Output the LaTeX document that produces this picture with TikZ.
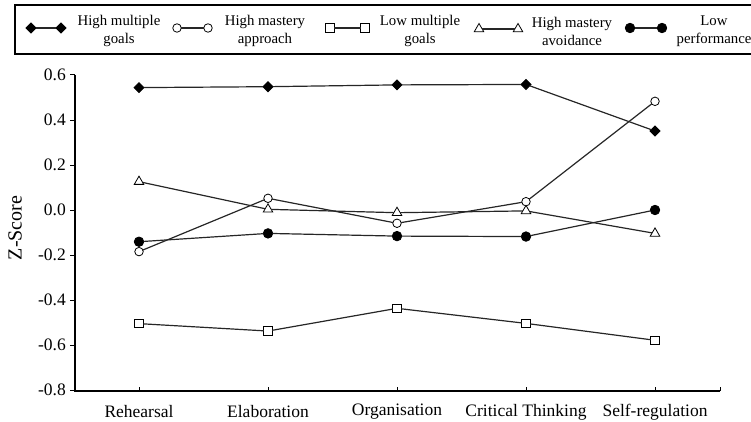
\documentclass[tikz,border=0pt]{standalone}
\usepackage{fontspec}
\setmainfont{Liberation Serif}
\usetikzlibrary{shapes.geometric}
\begin{document}
\begin{tikzpicture}[x=1pt,y=-1pt,
 mk/.style={inner sep=0pt, outer sep=0pt, draw=black, line width=0.8pt},
 diam/.style={mk, diamond, fill=black, minimum width=10pt, minimum height=10pt},
 ocirc/.style={mk, circle, fill=white, minimum size=8.5pt},
 sq/.style={mk, rectangle, fill=white, minimum size=8.5pt},
 tri/.style={mk, regular polygon, regular polygon sides=3, fill=white, minimum size=11pt},
 fcirc/.style={mk, circle, fill=black, minimum size=9.5pt},
 dline/.style={line width=1.2pt, black!85},
 axisline/.style={line width=1.8pt},
 ticklab/.style={font=\fontsize{17.5}{20}\selectfont, inner sep=0pt},
 zlab/.style={font=\fontsize{20}{24}\selectfont, inner sep=0pt},
 leglab/.style={font=\fontsize{14.8}{18}\selectfont, align=center, inner sep=0pt},
]
\useasboundingbox (0,0) rectangle (751,422);
% legend frame
\draw[line width=1.2pt] (770,5) -- (15,5) -- (15,54) -- (770,54);
% legend entries
\node[diam] (la1) at (31,28) {};
\node[diam] (la2) at (61,28) {};
\draw[dline] (la1) -- (la2);
\node[leglab] (lta) at (119,31) {High multiple\\goals};
\node[ocirc] (lb1) at (177,28) {};
\node[ocirc] (lb2) at (208,28) {};
\draw[dline] (lb1) -- (lb2);
\node[leglab] (ltb) at (265,31) {High mastery\\approach};
\node[sq] (lc1) at (330,28) {};
\node[sq] (lc2) at (365,28) {};
\draw[dline] (lc1) -- (lc2);
\node[leglab] (ltc) at (420,31) {Low multiple\\goals};
\node[tri] (ld1) at (479,29) {};
\node[tri] (ld2) at (518,29) {};
\draw[dline] (ld1) -- (ld2);
\node[leglab] (ltd) at (572,31) {High mastery\\avoidance};
\node[fcirc] (le1) at (630,28) {};
\node[fcirc] (le2) at (662,28) {};
\draw[dline] (le1) -- (le2);
\node[leglab] (lte) at (714,31) {Low\\performance};
% axes
\coordinate (o) at (75,391);
\coordinate (ytop) at (75,75);
\coordinate (xend) at (720,391);
\draw[axisline] (ytop) -- (o) -- (xend);
\foreach \v/\t in {0.6/0.6,0.4/0.4,0.2/0.2,0/0.0,-0.2/-0.2,-0.4/-0.4,-0.6/-0.6,-0.8/-0.8}{
  \draw[line width=1pt] (70,{210-225*\v}) -- (75,{210-225*\v});
  \node[ticklab, anchor=east] at (66,{210-225*\v}) {\t};
}
\node[zlab, rotate=90] (zl) at (15,228) {Z-Score};
\foreach \c/\n [count=\i] in {Rehearsal/r,Elaboration/e,Organisation/o,Critical Thinking/c,Self-regulation/s}{
  \draw[line width=1pt] ({139+129*(\i-1)},391) -- ({139+129*(\i-1)},387);
  \node[ticklab] (x\n) at ({139+129*(\i-1)},412) {\c};
}
\draw[line width=1pt] (720,391) -- (720,387);
% data
\foreach \v [count=\i] in {0.544,0.548,0.556,0.558,0.351}
  \node[diam] (a\i) at ({139+129*(\i-1)},{210-225*\v}) {};
\draw[dline] (a1) -- (a2) -- (a3) -- (a4) -- (a5);
\foreach \v [count=\i] in {-0.185,0.052,-0.059,0.037,0.483}
  \node[ocirc] (b\i) at ({139+129*(\i-1)},{210-225*\v}) {};
\draw[dline] (b1) -- (b2) -- (b3) -- (b4) -- (b5);
\foreach \v [count=\i] in {-0.505,-0.538,-0.437,-0.504,-0.579}
  \node[sq] (c\i) at ({139+129*(\i-1)},{210-225*\v}) {};
\draw[dline] (c1) -- (c2) -- (c3) -- (c4) -- (c5);
\foreach \v [count=\i] in {0.126,0.003,-0.012,-0.004,-0.104}
  \node[tri] (d\i) at ({139+129*(\i-1)},{210-225*\v}) {};
\draw[dline] (d1) -- (d2) -- (d3) -- (d4) -- (d5);
\foreach \v [count=\i] in {-0.141,-0.104,-0.116,-0.118,0.0}
  \node[fcirc] (e\i) at ({139+129*(\i-1)},{210-225*\v}) {};
\draw[dline] (e1) -- (e2) -- (e3) -- (e4) -- (e5);
\end{tikzpicture}
\end{document}
